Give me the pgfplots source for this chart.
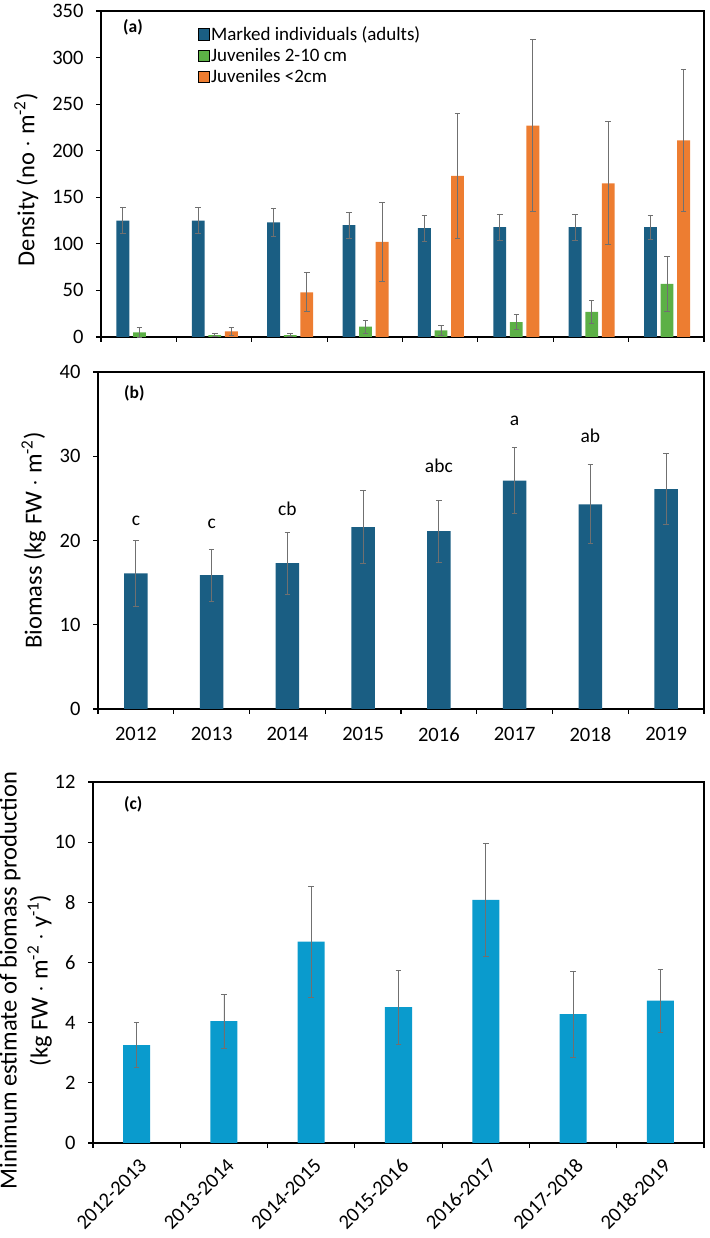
\documentclass[border=0pt]{standalone}
\usepackage{pgfplots}
\usepackage{pgfplotstable}
\pgfplotsset{compat=1.18}
\usepackage{fontspec}
\setmainfont{Carlito}
\definecolor{dblue}{HTML}{1A5E83}
\definecolor{jgreen}{HTML}{5CB046}
\definecolor{jorange}{HTML}{ED7D31}
\definecolor{lblue}{HTML}{0A9BCD}
\definecolor{errgray}{HTML}{707070}

\pgfplotstableread{
x y e
0 125 14
1 125 14
2 123 15
3 120 14
4 117 14
5 118 14
6 118 14
7 118 13
}\adults
\pgfplotstableread{
x y e
0 5 5
1 2 1.5
2 2 1.5
3 11 7
4 7 5
5 16 8
6 27 12.5
7 57 29
}\juvbig
\pgfplotstableread{
x y e
1 6 4
2 48 21
3 102 42
4 173 67
5 227 92
6 165 66
7 211 76
}\juvsmall
\pgfplotstableread{
x y e
0 16.1 3.9
1 15.9 3.1
2 17.3 3.7
3 21.6 4.3
4 21.1 3.7
5 27.1 3.9
6 24.3 4.7
7 26.1 4.2
}\biomass
\pgfplotstableread{
x y lab
0 22.3 c
1 22.0 c
2 23.8 cb
4 28.9 abc
5 34.2 a
6 32.4 ab
}\letters
\pgfplotstableread{
x y e
0 3.25 0.75
1 4.05 0.9
2 6.69 1.85
3 4.52 1.23
4 8.08 1.88
5 4.28 1.44
6 4.73 1.04
}\production

\pgfplotsset{
  common/.style={
    scale only axis,
    anchor=south west,
    axis line style={black, line width=1.1pt},
    tick style={black, line width=1.1pt},
    tick align=outside,
    major tick length=5pt,
    xtick pos=bottom,
    ytick pos=left,
    ymin=0,
    tick label style={font=\fontsize{20.5}{23}\selectfont},
    yticklabel style={xshift=-9pt},
    /pgf/number format/assume math mode=true,
    label style={font=\fontsize{24.5}{31}\selectfont},
    clip=false,
  },
  ebar/.style={
    error bars/y dir=both, error bars/y explicit,
    error bars/error bar style={errgray, line width=0.8pt},
    error bars/error mark options={errgray, rotate=90, mark size=2.8pt, line width=0.8pt},
  },
}

\begin{document}
\begin{tikzpicture}
\path[use as bounding box] (0pt,0pt) rectangle (709pt,1238pt);

% ---------- panel (a)
\begin{axis}[common,
  at={(101pt,901pt)}, width=603pt, height=326pt,
  xmin=-0.5, xmax=7.5, ymax=350,
  ytick={0,50,...,350},
  xtick={-0.5,0.5,...,7.5}, xticklabels={},
  ylabel={Density (no $\cdot$ m\textsuperscript{-2})},
  ylabel style={at={(axis description cs:-0.124,0.482)}, anchor=center},
  legend image code/.code={\fill[#1] (0pt,-5.5pt) rectangle (11.5pt,6pt);},
  legend style={at={(0.16,0.957)}, anchor=north west, draw=none, fill=none,
    inner sep=0pt, row sep=3.5pt, font=\fontsize{19}{23}\selectfont,
    nodes={inner sep=1.5pt}},
  legend cell align=left,
]
\addlegendimage{fill=dblue}
\addlegendentry{Marked individuals (adults)}
\addlegendimage{fill=jgreen}
\addlegendentry{Juveniles 2-10 cm}
\addlegendimage{fill=jorange}
\addlegendentry{Juveniles <2cm}
\addplot[ybar, bar width=0.17, bar shift=0, fill=dblue, draw=none, forget plot, ebar]
  table[x expr=\thisrow{x}-0.21, y=y, y error=e] {\adults};
\addplot[ybar, bar width=0.17, bar shift=0, fill=jgreen, draw=none, forget plot, ebar]
  table[x expr=\thisrow{x}+0.01, y=y, y error=e] {\juvbig};
\addplot[ybar, bar width=0.17, bar shift=0, fill=jorange, draw=none, forget plot, ebar]
  table[x expr=\thisrow{x}+0.23, y=y, y error=e] {\juvsmall};
\node[font=\bfseries\fontsize{17.5}{20}\selectfont] at (axis description cs:0.053,0.951) {(a)};
\end{axis}

% ---------- panel (b)
\begin{axis}[common,
  at={(98pt,529pt)}, width=606pt, height=337pt,
  xmin=-0.5, xmax=7.5, ymax=40,
  ytick={0,10,...,40},
  xtick={-0.5,0.5,...,7.5}, xticklabels={},
  extra x ticks={0,1,...,7},
  extra x tick labels={2012,2013,2014,2015,2016,2017,2018,2019},
  extra x tick style={major tick length=0pt, tick label style={yshift=-15pt}},
  ylabel={Biomass (kg FW $\cdot$ m\textsuperscript{-2})},
  ylabel style={at={(axis description cs:-0.106,0.5)}, anchor=center},
]
\addplot[ybar, bar width=0.31, bar shift=0, fill=dblue, draw=none, ebar]
  table[x=x, y=y, y error=e] {\biomass};
\addplot[draw=none, mark=none, nodes near coords, point meta=explicit symbolic,
  nodes near coords style={anchor=center, font=\fontsize{19.5}{22}\selectfont, black}]
  table[x=x, y=y, meta=lab] {\letters};
\node[font=\bfseries\fontsize{17.5}{20}\selectfont] at (axis description cs:0.06,0.938) {(b)};
\end{axis}

% ---------- panel (c)
\begin{axis}[common,
  at={(93pt,95pt)}, width=611pt, height=361pt,
  xmin=-0.5, xmax=6.5, ymax=12,
  ytick={0,2,...,12},
  xtick={-0.5,0.5,...,6.5}, xticklabels={},
  extra x ticks={0,1,...,6},
  extra x tick labels={2012-2013,2013-2014,2014-2015,2015-2016,2016-2017,2017-2018,2018-2019},
  extra x tick style={major tick length=0pt, tick label style={xshift=9pt, yshift=-17pt, rotate=45, anchor=east}},
  ylabel={Minimum estimate of biomass production\\(kg FW $\cdot$ m\textsuperscript{-2} $\cdot$ y\textsuperscript{-1})},
  ylabel style={at={(axis description cs:-0.11,0.45)}, anchor=center, align=center},
]
\addplot[ybar, bar width=0.31, bar shift=0, fill=lblue, draw=none, ebar]
  table[x=x, y=y, y error=e] {\production};
\node[font=\bfseries\fontsize{17.5}{20}\selectfont] at (axis description cs:0.066,0.939) {(c)};
\end{axis}
\end{tikzpicture}
\end{document}
